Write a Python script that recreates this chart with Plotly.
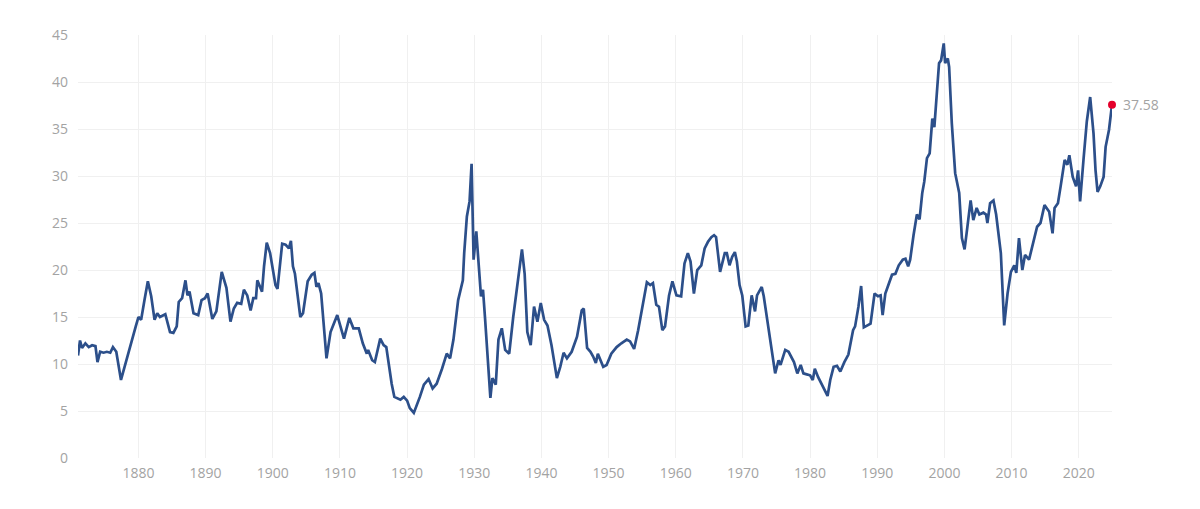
import plotly.graph_objects as go

# --- DATA ---
years = [
    1871.0, 1871.3, 1871.6, 1872.1, 1872.6, 1873.1, 1873.6, 1873.9, 1874.3, 1874.8,
    1875.3, 1875.8, 1876.2, 1876.7, 1877.4, 1878.1, 1878.8, 1879.6, 1880.0, 1880.4,
    1880.9, 1881.4, 1881.9, 1882.4, 1882.8, 1883.2, 1884.0, 1884.7, 1885.2, 1885.7,
    1886.0, 1886.5, 1887.0, 1887.3, 1887.6, 1888.2, 1888.9, 1889.4, 1889.9, 1890.3,
    1891.0, 1891.6, 1892.4, 1893.1, 1893.7, 1894.2, 1894.7, 1895.3, 1895.7, 1896.2,
    1896.7, 1897.1, 1897.5, 1897.7, 1898.4, 1898.7, 1899.1, 1899.6, 1900.4, 1900.7,
    1901.4, 1901.9, 1902.4, 1902.7, 1903.0, 1903.3, 1904.1, 1904.5, 1905.2, 1905.8,
    1906.2, 1906.5, 1906.8, 1907.2, 1908.0, 1908.6, 1909.1, 1909.6, 1910.6, 1911.4,
    1912.0, 1912.8, 1913.4, 1914.0, 1914.2, 1914.8, 1915.2, 1916.0, 1916.5, 1916.9,
    1917.7, 1918.1, 1919.0, 1919.5, 1920.0, 1920.4, 1921.0, 1921.4, 1921.9, 1922.5,
    1923.2, 1923.8, 1924.4, 1925.2, 1925.9, 1926.4, 1926.9, 1927.6, 1928.3, 1928.5,
    1928.9, 1929.3, 1929.6, 1929.9, 1930.3, 1931.0, 1931.3, 1931.6, 1932.4, 1932.7,
    1933.2, 1933.6, 1934.1, 1934.6, 1935.2, 1935.8, 1936.3, 1937.1, 1937.5, 1937.9,
    1938.4, 1938.9, 1939.4, 1939.9, 1940.4, 1940.9, 1941.5, 1942.3, 1942.8, 1943.3,
    1943.8, 1944.5, 1945.3, 1946.0, 1946.3, 1946.8, 1947.3, 1947.7, 1948.1, 1948.4,
    1949.2, 1949.7, 1950.4, 1951.2, 1951.9, 1952.7, 1953.2, 1953.8, 1954.4, 1955.1,
    1955.7, 1956.2, 1956.6, 1957.1, 1957.5, 1958.0, 1958.4, 1959.0, 1959.5, 1960.1,
    1960.8, 1961.3, 1961.8, 1962.2, 1962.7, 1963.2, 1963.8, 1964.3, 1964.8, 1965.3,
    1965.7, 1966.0, 1966.3, 1966.6, 1967.3, 1967.6, 1968.0, 1968.4, 1968.8, 1969.1,
    1969.5, 1969.9, 1970.4, 1970.8, 1971.3, 1971.8, 1972.1, 1972.8, 1973.1, 1973.6,
    1974.3, 1974.8, 1975.3, 1975.6, 1976.3, 1976.8, 1977.6, 1978.1, 1978.6, 1979.0,
    1979.5, 1980.0, 1980.4, 1980.7, 1981.2, 1981.9, 1982.6, 1983.0, 1983.5, 1984.0,
    1984.5, 1985.1, 1985.7, 1986.4, 1986.7, 1987.2, 1987.6, 1988.0, 1988.6, 1989.0,
    1989.6, 1990.1, 1990.5, 1990.8, 1991.2, 1991.7, 1992.2, 1992.7, 1993.2, 1993.8,
    1994.2, 1994.6, 1994.9, 1995.4, 1995.9, 1996.3, 1996.7, 1997.0, 1997.4, 1997.8,
    1998.2, 1998.5, 1998.8, 1999.2, 1999.5, 1999.9, 2000.1, 2000.5, 2000.7, 2001.1,
    2001.6, 2002.2, 2002.6, 2003.0, 2003.3, 2003.9, 2004.3, 2004.8, 2005.2, 2005.8,
    2006.2, 2006.4, 2006.8, 2007.3, 2007.7, 2008.1, 2008.4, 2008.9, 2009.4, 2009.9,
    2010.4, 2010.7, 2011.1, 2011.6, 2012.0, 2012.6, 2013.3, 2013.8, 2014.3, 2014.9,
    2015.6, 2016.1, 2016.4, 2016.9, 2017.3, 2017.9, 2018.3, 2018.6, 2019.1, 2019.6,
    2019.9, 2020.2, 2020.7, 2021.2, 2021.7, 2022.2, 2022.5, 2022.8, 2023.2, 2023.7,
    2024.0, 2024.5, 2024.95,
]
cape = [
    10.9, 12.5, 11.7, 12.2, 11.8, 12.0, 11.9, 10.2, 11.3, 11.2,
    11.3, 11.2, 11.8, 11.3, 8.3, 10.2, 12.0, 14.0, 15.0, 14.7,
    16.8, 18.8, 17.2, 14.7, 15.4, 15.0, 15.3, 13.4, 13.3, 14.0,
    16.6, 17.0, 18.9, 17.3, 17.7, 15.4, 15.2, 16.8, 17.0, 17.5,
    14.8, 15.6, 19.8, 18.1, 14.5, 15.9, 16.5, 16.4, 17.9, 17.3,
    15.7, 17.0, 17.0, 18.9, 17.7, 20.4, 22.9, 21.8, 18.4, 18.0,
    22.8, 22.7, 22.3, 23.1, 20.4, 19.6, 15.0, 15.4, 18.8, 19.5,
    19.7, 18.2, 18.6, 17.5, 10.6, 13.4, 14.3, 15.2, 12.7, 14.9,
    13.8, 13.8, 12.2, 11.1, 11.5, 10.4, 10.2, 12.7, 12.0, 11.8,
    7.9, 6.5, 6.2, 6.5, 6.1, 5.3, 4.8, 5.5, 6.5, 7.8,
    8.4, 7.4, 7.9, 9.5, 11.1, 10.6, 12.6, 16.8, 18.9, 21.8,
    25.7, 27.3, 31.3, 21.1, 24.1, 17.2, 17.9, 14.9, 6.4, 8.5,
    7.8, 12.6, 13.8, 11.5, 11.1, 15.0, 17.9, 22.2, 19.6, 13.4,
    12.0, 16.1, 14.5, 16.5, 14.7, 14.1, 12.0, 8.5, 9.7, 11.2,
    10.6, 11.3, 12.9, 15.7, 15.9, 11.7, 11.3, 10.8, 10.1, 11.1,
    9.7, 9.9, 11.1, 11.8, 12.2, 12.6, 12.4, 11.6, 13.6, 16.5,
    18.7, 18.4, 18.6, 16.3, 16.1, 13.6, 14.0, 17.3, 18.8, 17.3,
    17.2, 20.7, 21.8, 20.9, 17.5, 20.0, 20.5, 22.3, 23.0, 23.5,
    23.7, 23.5, 21.4, 19.8, 21.8, 21.8, 20.5, 21.4, 21.9, 20.9,
    18.4, 17.3, 14.0, 14.1, 17.3, 15.6, 17.3, 18.2, 17.2, 14.9,
    11.5, 9.0, 10.4, 9.9, 11.5, 11.3, 10.2, 9.0, 9.9, 9.0,
    8.9, 8.8, 8.3, 9.5, 8.6, 7.6, 6.6, 8.3, 9.7, 9.8,
    9.2, 10.2, 11.0, 13.6, 14.0, 16.1, 18.3, 13.9, 14.1, 14.3,
    17.5, 17.2, 17.3, 15.2, 17.5, 18.4, 19.5, 19.6, 20.5, 21.1,
    21.2, 20.4, 21.1, 23.7, 25.9, 25.4, 28.2, 29.4, 31.9, 32.4,
    36.1, 35.2, 38.1, 42.0, 42.3, 44.1, 42.0, 42.5, 41.6, 35.6,
    30.3, 28.2, 23.4, 22.2, 23.9, 27.4, 25.3, 26.6, 25.9, 26.1,
    25.9, 25.0, 27.1, 27.4, 25.9, 23.4, 21.8, 14.1, 17.5, 19.8,
    20.5, 19.7, 23.4, 20.0, 21.6, 21.1, 23.2, 24.6, 25.0, 26.9,
    26.2, 23.9, 26.6, 27.1, 28.9, 31.7, 31.2, 32.2, 29.9, 28.9,
    30.6, 27.3, 31.7, 35.8, 38.4, 34.5, 30.6, 28.3, 28.9, 29.9,
    33.1, 34.9, 37.58,
]
x_ticks = [1880, 1890, 1900, 1910, 1920, 1930, 1940, 1950, 1960, 1970, 1980, 1990, 2000, 2010, 2020]
y_ticks = [0, 5, 10, 15, 20, 25, 30, 35, 40, 45]

LINE_BLUE = "#2c4f8a"
DOT_RED = "#e4002b"
TEXT_GREY = "#a3a3a3"
GRID = "#f0f0f0"

fig = go.Figure()

# main CAPE line
fig.add_trace(go.Scatter(
    x=years, y=cape,
    mode="lines",
    line=dict(color=LINE_BLUE, width=2.7),
    hoverinfo="x+y",
))

# last value marker
fig.add_trace(go.Scatter(
    x=[years[-1]], y=[cape[-1]],
    mode="markers",
    marker=dict(color=DOT_RED, size=8),
    cliponaxis=False,
    hoverinfo="skip",
))

# label next to the last value
fig.add_annotation(
    x=years[-1], y=cape[-1],
    text=f"{cape[-1]:.2f}",
    showarrow=False,
    xanchor="left", xshift=9,
    font=dict(color=TEXT_GREY, size=14),
)

# the page body adds an 8px offset, so the figure is drawn 8px smaller
fig.update_layout(
    width=1192, height=501,
    margin=dict(l=70, r=88, t=27, b=51),
    paper_bgcolor="white",
    plot_bgcolor="white",
    showlegend=False,
    font=dict(family="Open Sans, sans-serif", size=14, color=TEXT_GREY),
)
fig.update_xaxes(
    range=[1871, 2024.95],
    tickvals=x_ticks,
    showgrid=True, gridcolor=GRID, gridwidth=1,
    zeroline=False, showline=False,
    ticks="", ticklabelstandoff=5,
)
fig.update_yaxes(
    range=[0, 45],
    tickvals=y_ticks,
    showgrid=True, gridcolor=GRID, gridwidth=1,
    zeroline=False, showline=False,
    ticks="", ticklabelstandoff=9,
)

fig.write_html("out.html")
